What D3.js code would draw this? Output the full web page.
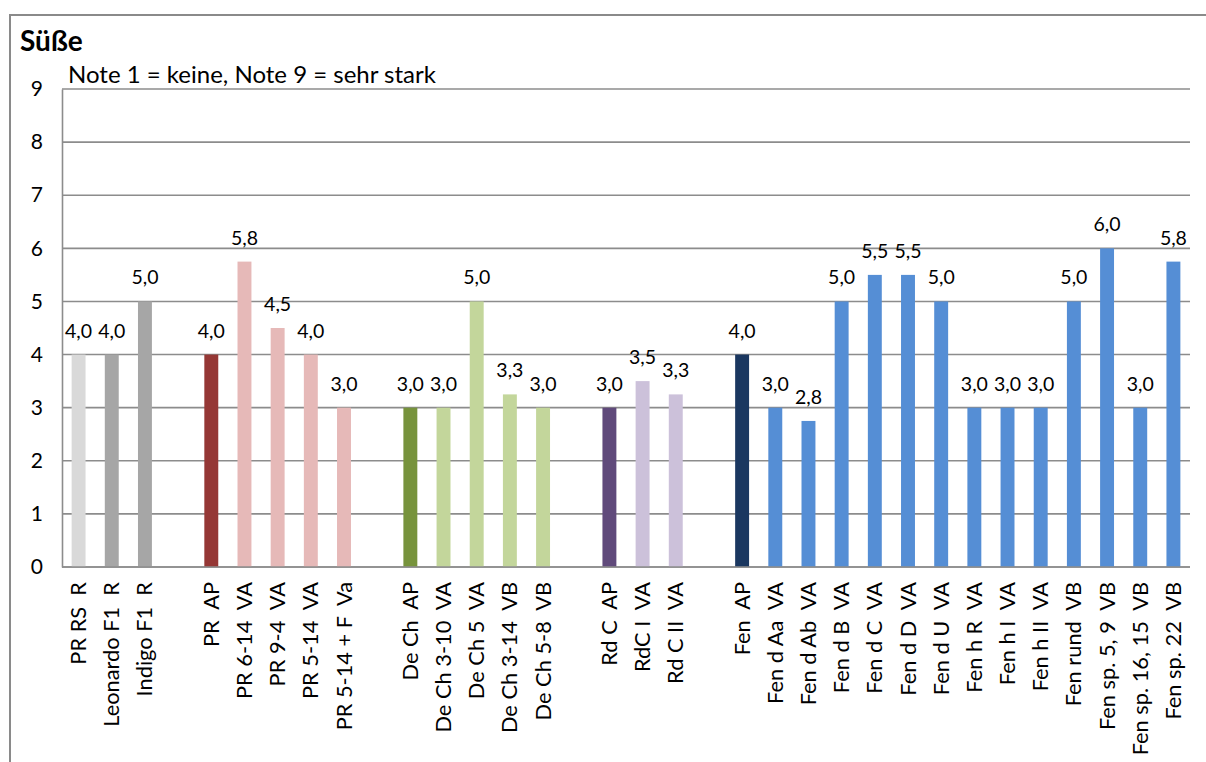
<!DOCTYPE html>
<html>
<head>
<meta charset="utf-8">
<script src="https://cdn.jsdelivr.net/npm/d3@7"></script>
<style>
  html, body { margin: 0; padding: 0; background: #fff; }
  svg { display: block; }
  text { font-family: Lato, "Open Sans", sans-serif; fill: #000; }
  .xlab { white-space: pre; }
</style>
</head>
<body>
<svg id="chart" width="1206" height="762"></svg>
<script>
// Sweetness scores per sample (blank entries separate the groups)
const categories = [
  "PR RS  R", "Leonardo F1  R", "Indigo F1  R", "",
  "PR  AP", "PR 6-14  VA", "PR 9-4  VA", "PR 5-14  VA", "PR 5-14 + F  Va", "",
  "De Ch  AP", "De Ch 3-10  VA", "De Ch 5  VA", "De Ch 3-14  VB", "De Ch 5-8  VB", "",
  "Rd C  AP", "RdC I  VA", "Rd C II  VA", "",
  "Fen  AP", "Fen d Aa  VA", "Fen d Ab  VA", "Fen d B  VA", "Fen d C  VA", "Fen d D  VA",
  "Fen d U  VA", "Fen h R  VA", "Fen h I  VA", "Fen h II  VA", "Fen rund  VB",
  "Fen sp. 5, 9  VB", "Fen sp. 16, 15  VB", "Fen sp. 22  VB"
];
const values = [
  4.0, 4.0, 5.0, null,
  4.0, 5.75, 4.5, 4.0, 3.0, null,
  3.0, 3.0, 5.0, 3.25, 3.0, null,
  3.0, 3.5, 3.25, null,
  4.0, 3.0, 2.75, 5.0, 5.5, 5.5,
  5.0, 3.0, 3.0, 3.0, 5.0,
  6.0, 3.0, 5.75
];
const colors = [
  "#d9d9d9", "#a6a6a6", "#a6a6a6", null,
  "#953735", "#e6b9b8", "#e6b9b8", "#e6b9b8", "#e6b9b8", null,
  "#77933c", "#c3d69b", "#c3d69b", "#c3d69b", "#c3d69b", null,
  "#604a7b", "#ccc1da", "#ccc1da", null,
  "#1a3760", "#558ed5", "#558ed5", "#558ed5", "#558ed5", "#558ed5",
  "#558ed5", "#558ed5", "#558ed5", "#558ed5", "#558ed5",
  "#558ed5", "#558ed5", "#558ed5"
];
const yTicks = [0, 1, 2, 3, 4, 5, 6, 7, 8, 9];
const title = "Süße";
const subtitle = "Note 1 = keine, Note 9 = sehr stark";

const svg = d3.select("#chart");
const plot = { left: 62, right: 1190, top: 89, bottom: 567 };

// Outer chart frame
svg.append("rect")
  .attr("x", 10).attr("y", 15)
  .attr("width", 1220).attr("height", 780)
  .attr("fill", "none").attr("stroke", "#8a8a8a").attr("stroke-width", 2);

const x = d3.scaleBand()
  .domain(d3.range(categories.length))
  .range([plot.left, plot.right])
  .paddingInner(0.58).paddingOuter(0.29);

const y = d3.scaleLinear().domain([0, 9]).range([plot.bottom, plot.top]);

// Horizontal gridlines
svg.append("g")
  .selectAll("line")
  .data(yTicks)
  .join("line")
  .attr("x1", plot.left).attr("x2", plot.right)
  .attr("y1", d => y(d)).attr("y2", d => y(d))
  .attr("stroke", "#8c8c8c").attr("stroke-width", 1.6);

// Y axis
const yAxis = svg.append("g")
  .attr("transform", `translate(${plot.left},0)`)
  .call(d3.axisLeft(y).tickValues(yTicks).tickSize(0).tickPadding(19).tickFormat(d3.format("d")));
yAxis.select(".domain").attr("stroke", "#8c8c8c").attr("stroke-width", 1.6);
yAxis.selectAll("text").attr("font-size", 21).attr("font-family", "Lato, sans-serif").attr("fill", "#000");

// Bars
const data = categories.map((c, i) => ({ i, c, v: values[i], col: colors[i] }))
  .filter(d => d.v !== null);

svg.append("g")
  .selectAll("rect")
  .data(data)
  .join("rect")
  .attr("x", d => x(d.i))
  .attr("width", x.bandwidth())
  .attr("y", d => y(d.v))
  .attr("height", d => y(0) - y(d.v))
  .attr("fill", d => d.col);

// Value labels
const fmt = v => d3.format(".1f")(v).replace(".", ",");
svg.append("g")
  .selectAll("text")
  .data(data)
  .join("text")
  .attr("x", d => x(d.i) + x.bandwidth() / 2)
  .attr("y", d => y(d.v) - 17)
  .attr("text-anchor", "middle")
  .attr("font-size", 19.5)
  .text(d => fmt(d.v));

// Bottom axis line
svg.append("line")
  .attr("x1", plot.left).attr("x2", plot.right)
  .attr("y1", plot.bottom).attr("y2", plot.bottom)
  .attr("stroke", "#8c8c8c").attr("stroke-width", 1.6);

// Rotated category labels
svg.append("g")
  .selectAll("text")
  .data(data)
  .join("text")
  .attr("class", "xlab")
  .attr("transform", d => `translate(${x(d.i) + x.bandwidth() / 2 + 7.5},${plot.bottom + 15}) rotate(-90)`)
  .attr("text-anchor", "end")
  .attr("font-size", 21.8)
  .text(d => d.c);

// Titles
svg.append("text")
  .attr("x", 20).attr("y", 51)
  .attr("font-size", 28).attr("font-weight", "bold")
  .text(title);
svg.append("text")
  .attr("x", 68).attr("y", 83)
  .attr("font-size", 24)
  .text(subtitle);
</script>
</body>
</html>
